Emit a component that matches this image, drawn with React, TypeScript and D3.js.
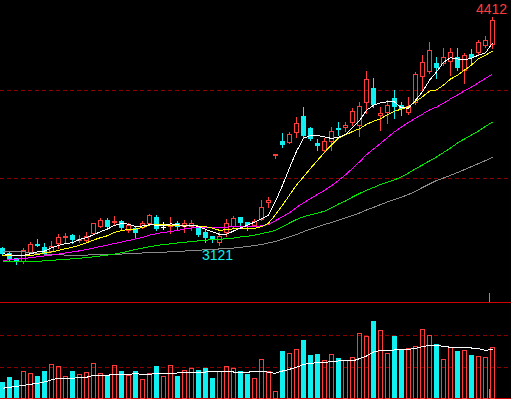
import * as d3 from "d3";

const WIDTH = 511;
const HEIGHT = 399;
const STEP = 7; // px per trading day
const BODY = 5; // candle body width

// daily bars, oldest first
const opens = [
  3100, 3074, 3044, 3023, 3076, 3125, 3110, 3081, 3123, 3157,
  3176, 3142, 3142, 3180, 3223, 3261, 3243, 3256, 3199, 3214,
  3218, 3237, 3280, 3222, 3220, 3246, 3220, 3223, 3220, 3195,
  3170, 3132, 3187, 3223, 3277, 3248, 3229, 3264, 3356, 3627,
  3710, 3701, 3754, 3852, 3782, 3701, 3653, 3706, 3786, 3782,
  3814, 3795, 3924, 4010, 3854, 3868, 3953, 3915, 3868, 3924,
  4076, 4104, 4155, 4148, 4161, 4189, 4110, 4205, 4209, 4250, 4256,
];
const highs = [
  3108, 3077, 3048, 3105, 3138, 3153, 3128, 3142, 3180, 3186,
  3179, 3176, 3191, 3247, 3271, 3270, 3284, 3259, 3244, 3219,
  3257, 3295, 3290, 3250, 3280, 3257, 3261, 3261, 3224, 3205,
  3173, 3195, 3265, 3284, 3281, 3252, 3267, 3375, 3394, 3636,
  3757, 3763, 3845, 3902, 3791, 3720, 3726, 3791, 3820, 3820,
  3896, 3934, 4110, 4066, 3902, 3943, 4000, 3934, 3962, 4104,
  4199, 4274, 4189, 4237, 4237, 4237, 4212, 4231, 4284, 4307, 4412,
];
const lows = [
  3062, 3034, 3014, 3017, 3074, 3111, 3062, 3080, 3104, 3138,
  3129, 3139, 3135, 3179, 3222, 3222, 3237, 3205, 3195, 3163,
  3216, 3236, 3207, 3205, 3186, 3210, 3195, 3205, 3170, 3138,
  3138, 3121, 3170, 3222, 3233, 3205, 3227, 3261, 3337, 3612,
  3678, 3701, 3735, 3731, 3716, 3659, 3649, 3659, 3744, 3769,
  3801, 3740, 3868, 3905, 3773, 3811, 3839, 3858, 3864, 3920,
  4000, 4099, 4066, 4142, 4085, 4114, 4041, 4142, 4205, 4244, 4237,
];
const closes = [
  3066, 3040, 3028, 3091, 3123, 3116, 3068, 3115, 3165, 3170,
  3149, 3152, 3172, 3243, 3261, 3223, 3256, 3218, 3233, 3187,
  3243, 3290, 3208, 3222, 3233, 3223, 3243, 3243, 3176, 3157,
  3152, 3170, 3243, 3271, 3243, 3231, 3257, 3337, 3375, 3636,
  3687, 3750, 3812, 3740, 3722, 3684, 3710, 3767, 3774, 3801,
  3881, 3907, 4061, 3915, 3868, 3915, 3902, 3892, 3909, 4091,
  4157, 4227, 4127, 4186, 4218, 4123, 4199, 4180, 4271, 4284, 4398,
];
const volumes = [
  508, 667, 571, 857, 784, 698, 857, 1079, 1016, 698,
  857, 762, 825, 1111, 794, 730, 1048, 857, 730, 857,
  603, 794, 1016, 698, 1048, 698, 889, 943, 889, 952,
  635, 857, 1016, 952, 857, 762, 635, 1238, 857, 222,
  1492, 1429, 1556, 1841, 1365, 1397, 1206, 1397, 1270, 1206,
  1302, 2063, 1968, 2444, 2159, 1429, 1968, 1556, 1587, 1651,
  2190, 2000, 1714, 1238, 1619, 1492, 1524, 1365, 1333, 1302, 1619,
];

// averages before enough days are on screen
const ma5Lead = [3070, 3064, 3058, 3060];
const ma10Lead = [3062, 3060, 3057, 3057, 3060, 3065, 3074, 3080, 3088];
const ma20Lead = [
  3032, 3035, 3039, 3043, 3047, 3052, 3057, 3062, 3068, 3074,
  3080, 3086, 3094, 3102, 3111, 3119, 3128, 3136, 3145,
];
// long averages
const maGreen = [
  3023, 3023, 3024, 3026, 3026, 3027, 3029, 3032, 3035, 3038,
  3041, 3044, 3048, 3052, 3057, 3062, 3068, 3075, 3085, 3094,
  3102, 3109, 3116, 3122, 3126, 3131, 3135, 3139, 3143, 3147,
  3149, 3152, 3155, 3159, 3165, 3169, 3175, 3184, 3193, 3203,
  3222, 3244, 3264, 3280, 3290, 3300, 3312, 3330, 3352, 3369,
  3392, 3412, 3430, 3446, 3463, 3476, 3489, 3507, 3528, 3552,
  3574, 3597, 3619, 3645, 3670, 3699, 3722, 3744, 3767, 3793, 3818,
];
const maGray = [
  3085, 3085, 3084, 3081, 3077, 3072, 3068, 3065, 3064, 3062,
  3062, 3062, 3062, 3064, 3065, 3066, 3067, 3068, 3070, 3072,
  3074, 3075, 3077, 3078, 3081, 3083, 3085, 3087, 3090, 3092,
  3094, 3097, 3099, 3102, 3106, 3111, 3116, 3122, 3131, 3140,
  3152, 3165, 3179, 3195, 3210, 3223, 3236, 3247, 3260, 3273,
  3287, 3301, 3318, 3333, 3349, 3364, 3377, 3391, 3406, 3425,
  3446, 3466, 3486, 3500, 3515, 3531, 3548, 3565, 3582, 3599, 3618,
];
const volMa = [
  308, 340, 371, 403, 435, 467, 508, 578, 625, 625,
  625, 657, 657, 721, 721, 721, 752, 752, 752, 771,
  752, 752, 784, 784, 784, 794, 800, 810, 819, 825,
  832, 835, 832, 825, 816, 816, 848, 857, 816, 784,
  857, 911, 975, 1063, 1102, 1121, 1133, 1152, 1175, 1175,
  1175, 1248, 1333, 1460, 1514, 1514, 1524, 1524, 1546, 1578,
  1629, 1667, 1673, 1641, 1610, 1610, 1610, 1587, 1565, 1514, 1546,
];

const priceGrid = [3500, 4000];
const volGrid = [1000, 2000];
const lowMark = { index: 31, value: 3121 };
const highMark = { index: 70, value: 4412 };
const cursorIndex = 70;

const RED = "#ff3c3c";
const CYAN = "#10f0f0";
const GRID = "#8c0000";
const FONT = "'Liberation Sans', Arial, sans-serif";

function movingAvg(period, lead) {
  return closes.map((_, i) =>
    i < period - 1 ? lead[i] : d3.mean(closes.slice(i - period + 1, i + 1))
  );
}

export default function App() {
  const n = closes.length;
  const x = d3.scaleLinear().domain([0, n - 1]).range([0, STEP * (n - 1)]);
  const y = d3.scaleLinear().domain([3500, 4000]).range([178, 90]);
  const yVol = d3.scaleLinear().domain([0, 1000]).range([398, 366.5]);
  const py = (v) => Math.round(y(v));
  const mid = (i) => x(i) + BODY / 2;

  const maLines = [
    { values: maGray, color: "#8a8a8a" },
    { values: maGreen, color: "#00e600" },
    { values: movingAvg(20, ma20Lead), color: "#ff00ff" },
    { values: movingAvg(10, ma10Lead), color: "#ffff00" },
    { values: movingAvg(5, ma5Lead), color: "#ffffff" },
  ];
  const priceLine = d3
    .line()
    .x((_, i) => mid(i))
    .y((v) => y(v));
  const volLine = d3
    .line()
    .x((_, i) => mid(i))
    .y((v) => yVol(v));

  const base = Math.round(yVol(0));

  return (
    <div
      style={{
        position: "fixed",
        left: 0,
        top: 0,
        width: "100vw",
        height: "100vh",
        background: "#000",
      }}
    >
      <svg width={WIDTH} height={HEIGHT} style={{ display: "block" }}>
        <rect width={WIDTH} height={HEIGHT} fill="#000" />

        {/* grid */}
        {priceGrid.map((v) => (
          <line
            key={"pg" + v}
            x1={0}
            x2={WIDTH}
            y1={py(v) + 0.5}
            y2={py(v) + 0.5}
            stroke={GRID}
            strokeDasharray="4,3"
          />
        ))}
        {volGrid.map((v) => (
          <line
            key={"vg" + v}
            x1={0}
            x2={WIDTH}
            y1={Math.round(yVol(v)) + 0.5}
            y2={Math.round(yVol(v)) + 0.5}
            stroke={GRID}
            strokeDasharray="4,3"
          />
        ))}
        <line x1={0} x2={WIDTH} y1={302.5} y2={302.5} stroke="#d00000" />
        <line x1={0} x2={WIDTH} y1={base + 0.5} y2={base + 0.5} stroke="#d00000" />

        {/* volume bars */}
        <g shapeRendering="crispEdges">
          {volumes.map((v, i) => {
            const top = Math.round(yVol(v));
            const up = closes[i] >= opens[i];
            return up ? (
              <rect
                key={i}
                x={x(i) + 0.5}
                y={top + 0.5}
                width={BODY - 1}
                height={Math.max(0, base - top)}
                fill="none"
                stroke={RED}
              />
            ) : (
              <rect key={i} x={x(i)} y={top} width={BODY} height={base - top} fill={CYAN} />
            );
          })}
        </g>
        <path
          d={volLine(volMa)}
          fill="none"
          stroke="#fff"
          strokeWidth={1}
          shapeRendering="crispEdges"
        />

        {/* candles */}
        <g shapeRendering="crispEdges">
          {closes.map((c, i) => {
            const o = opens[i];
            const cx = x(i) + 2.5;
            const yo = py(o);
            const yc = py(c);
            const yh = py(highs[i]);
            const yl = py(lows[i]);
            if (c === o) {
              return (
                <g key={i} stroke="#fff">
                  <line x1={cx} x2={cx} y1={yh} y2={yl} />
                  <line x1={x(i)} x2={x(i) + BODY} y1={yc + 0.5} y2={yc + 0.5} />
                </g>
              );
            }
            if (c > o) {
              return (
                <g key={i} stroke={RED} fill="none">
                  <line x1={cx} x2={cx} y1={yh} y2={yc} />
                  <line x1={cx} x2={cx} y1={yo} y2={yl + 1} />
                  <rect x={x(i) + 0.5} y={yc + 0.5} width={BODY - 1} height={Math.max(0, yo - yc - 1)} />
                </g>
              );
            }
            return (
              <g key={i}>
                <line x1={cx} x2={cx} y1={yh} y2={yl + 1} stroke={CYAN} />
                <rect x={x(i)} y={yo} width={BODY} height={Math.max(1, yc - yo)} fill={CYAN} />
              </g>
            );
          })}
        </g>

        {/* moving averages */}
        {maLines.map((m, k) => (
          <path
            key={k}
            d={priceLine(m.values)}
            fill="none"
            stroke={m.color}
            strokeWidth={1}
            shapeRendering="crispEdges"
          />
        ))}

        {/* cursor ticks */}
        <line x1={x(cursorIndex) - 0.5} x2={x(cursorIndex) - 0.5} y1={293} y2={302} stroke="#909090" />
        <line x1={x(cursorIndex) - 0.5} x2={x(cursorIndex) - 0.5} y1={389} y2={398} stroke="#909090" />

        {/* extreme labels */}
        <text
          x={mid(highMark.index) - 1}
          y={py(highMark.value) - 3}
          fill={RED}
          fontFamily={FONT}
          fontSize={14}
          textAnchor="middle"
        >
          {highMark.value}
        </text>
        <text
          x={mid(lowMark.index) - 2}
          y={py(lowMark.value) + 15}
          fill={CYAN}
          fontFamily={FONT}
          fontSize={14}
          textAnchor="middle"
        >
          {lowMark.value}
        </text>
      </svg>
    </div>
  );
}
